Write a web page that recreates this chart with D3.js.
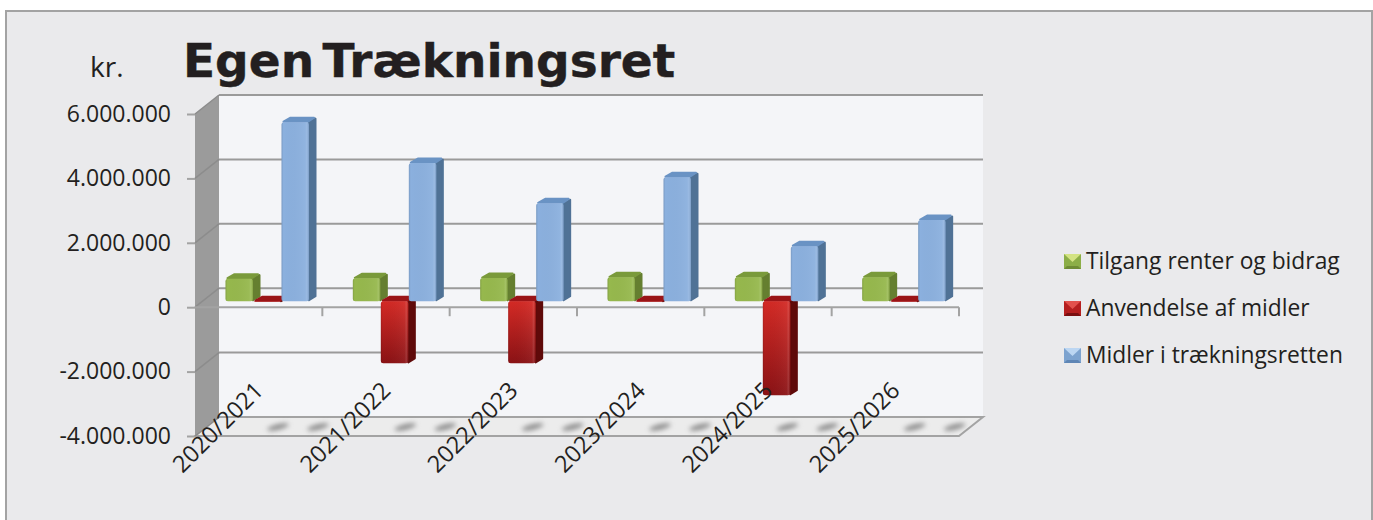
<!DOCTYPE html>
<html>
<head>
<meta charset="utf-8">
<script src="https://cdn.jsdelivr.net/npm/d3@7"></script>
<style>
html, body { margin: 0; padding: 0; background: #fff; overflow: hidden; }
text { fill: #231f20; font-family: "Open Sans", sans-serif; }
</style>
</head>
<body>
<svg id="chart" width="1373" height="520"></svg>
<script>
var categories = ["2020/2021", "2021/2022", "2022/2023", "2023/2024", "2024/2025", "2025/2026"];
var tilgang = [700000, 710000, 720000, 740000, 740000, 740000];
var anvendelse = [-20000, -1930000, -1930000, -20000, -2920000, -20000];
var midler = [5560000, 4290000, 3040000, 3850000, 1710000, 2520000];
var seriesNames = ["Tilgang renter og bidrag", "Anvendelse af midler", "Midler i trækningsretten"];
var yTicks = [6000000, 4000000, 2000000, 0, -2000000, -4000000];

var seriesValues = [tilgang, anvendelse, midler];
var colors = [
  {front: "#96b84d", top: "#7a9a3b", side: "#657f30", light: "#d3e383", dark: "#6f8c35"},
  {front: "url(#redFront)", top: "#9a1417", side: "#5f0a0a", light: "#e2514c", dark: "#7a0f10"},
  {front: "#8bb0de", top: "#6a93c4", side: "#507296", light: "#bcd6f2", dark: "#5f86b5"}
];

var svg = d3.select("#chart");

// plot box, front plane of the 3d floor
var left = 195, right = 959, depthX = 24, depthY = 19;
var barDepthX = 7, barDepthY = 5, barOffset = 6;

var y = d3.scaleLinear().domain([-4000000, 6000000]).range([436, 114]);
var x = d3.scaleBand().domain(categories).range([left, right]);
var inner = d3.scaleBand().domain([0, 1, 2]).range([30.5, 114.5]);

var daDK = d3.formatLocale({decimal: ",", thousands: ".", grouping: [3], currency: ["", " kr."], minus: "-"});

var defs = svg.append("defs");
var redGrad = defs.append("linearGradient").attr("id", "redFront")
  .attr("x1", 0).attr("y1", 0).attr("x2", 0).attr("y2", 1);
redGrad.append("stop").attr("offset", 0).attr("stop-color", "#d42a25");
redGrad.append("stop").attr("offset", 1).attr("stop-color", "#8a1215");

var bevel = defs.append("linearGradient").attr("id", "bevel");
bevel.append("stop").attr("offset", 0).attr("stop-color", "#000").attr("stop-opacity", 0.12);
bevel.append("stop").attr("offset", 0.07).attr("stop-color", "#000").attr("stop-opacity", 0);
bevel.append("stop").attr("offset", 0.86).attr("stop-color", "#fff").attr("stop-opacity", 0.05);
bevel.append("stop").attr("offset", 0.93).attr("stop-color", "#fff").attr("stop-opacity", 0.14);
bevel.append("stop").attr("offset", 1).attr("stop-color", "#000").attr("stop-opacity", 0.1);

defs.append("filter").attr("id", "blur").attr("x", "-100%").attr("y", "-500%").attr("width", "300%").attr("height", "1100%")
  .append("feGaussianBlur").attr("stdDeviation", 2.4);

// chart area
svg.append("rect").attr("x", 6).attr("y", 11).attr("width", 1366).attr("height", 520)
  .attr("fill", "#eaeaec").attr("stroke", "#a3a3a3").attr("stroke-width", 2);

// back wall
var wallTop = y(6000000) - depthY, wallBottom = y(-4000000) - depthY;
svg.append("rect").attr("x", left + depthX).attr("y", wallTop)
  .attr("width", right - left).attr("height", wallBottom - wallTop).attr("fill", "#f4f5f8");

// left wall
svg.append("polygon")
  .attr("points", [[left, y(6000000)], [left + depthX, wallTop], [left + depthX, wallBottom], [left, y(-4000000)]].join(" "))
  .attr("fill", "#9b9b9b");

// floor
svg.append("polygon")
  .attr("points", [[left, y(-4000000)], [left + depthX, wallBottom], [right + depthX, wallBottom], [right, y(-4000000)]].join(" "))
  .attr("fill", "#ececec").attr("stroke", "#a3a3a3").attr("stroke-width", 2);

// smudges on the floor
categories.forEach(function(c) {
  [83, 123].forEach(function(off) {
    svg.append("ellipse")
      .attr("transform", "translate(" + (x(c) + off) + ",427) rotate(-14)")
      .attr("rx", 11).attr("ry", 2.5).attr("fill", "#808080").attr("filter", "url(#blur)");
  });
});

// gridlines on the walls
yTicks.forEach(function(t) {
  if (t != -4000000) {
    svg.append("line")
      .attr("x1", left + depthX).attr("x2", right + depthX)
      .attr("y1", y(t) - depthY).attr("y2", y(t) - depthY)
      .attr("stroke", "#9a9a9a").attr("stroke-width", 2);
  }
  svg.append("line")
    .attr("x1", left).attr("x2", left + depthX)
    .attr("y1", y(t)).attr("y2", y(t) - depthY)
    .attr("stroke", "#8c8c8c").attr("stroke-width", 1.5);
});

// front line at zero with the category ticks
svg.append("line").attr("x1", left).attr("x2", right).attr("y1", y(0)).attr("y2", y(0))
  .attr("stroke", "#a3a3a3").attr("stroke-width", 2);
categories.forEach(function(c) {
  svg.append("line")
    .attr("x1", x(c) + x.bandwidth()).attr("x2", x(c) + x.bandwidth())
    .attr("y1", y(0)).attr("y2", y(0) + 9)
    .attr("stroke", "#a3a3a3").attr("stroke-width", 2);
});

// bars
var base = y(0) - barOffset;
categories.forEach(function(c, i) {
  seriesValues.forEach(function(values, s) {
    var v = values[i];
    var x0 = x(c) + inner(s), w = inner.bandwidth() - 0.5;
    var yEnd = y(v) - barOffset;
    var yTop = Math.min(base, yEnd), yBot = Math.max(base, yEnd);
    var col = colors[s];
    var g = svg.append("g").attr("class", "bar");

    g.append("polygon")
      .attr("points", [[x0 + w, yTop], [x0 + w + barDepthX - 0.5, yTop - barDepthY + 1.5], [x0 + w + barDepthX - 0.5, yBot - barDepthY], [x0 + w, yBot - 1]].join(" "))
      .attr("fill", col.side).attr("stroke", col.side).attr("stroke-width", 2).attr("stroke-linejoin", "round");
    g.append("polygon")
      .attr("points", [[x0 + 2, yTop - 0.5], [x0 + barDepthX + 2, yTop - barDepthY + 0.5], [x0 + w + barDepthX - 2, yTop - barDepthY + 0.5], [x0 + w - 1, yTop - 0.5]].join(" "))
      .attr("fill", col.top).attr("stroke", col.top).attr("stroke-width", 2).attr("stroke-linejoin", "round");
    g.append("rect").attr("x", x0).attr("y", yTop).attr("width", w).attr("height", yBot - yTop)
      .attr("rx", 2.5).attr("fill", col.front);
    g.append("rect").attr("x", x0).attr("y", yTop).attr("width", w).attr("height", yBot - yTop)
      .attr("rx", 2.5).attr("fill", "url(#bevel)");
  });
});

// y axis
var yAxis = svg.append("g").attr("transform", "translate(" + left + ",0)")
  .call(d3.axisLeft(y).tickValues(yTicks).tickSize(8).tickPadding(16).tickFormat(daDK.format(",d")));
yAxis.select(".domain").remove();
yAxis.selectAll("line").attr("stroke", "#a3a3a3").attr("stroke-width", 2);
yAxis.selectAll("text").style("font-size", "23px").attr("fill", "#231f20")
  .style("font-family", "'Open Sans', sans-serif");

// x labels, rotated
var xAxis = svg.append("g").attr("transform", "translate(0," + y(-4000000) + ")")
  .call(d3.axisBottom(x).tickSize(0).tickPadding(0));
xAxis.select(".domain").remove();
xAxis.selectAll("text")
  .style("font-size", "23.5px").style("font-family", "'Open Sans', sans-serif")
  .attr("fill", "#231f20")
  .attr("text-anchor", "end")
  .attr("dy", 0).attr("y", 0)
  .attr("transform", "translate(6,-44) rotate(-45)");

// titles
svg.append("text").attr("x", 183).attr("y", 76.5).text("Egen Trækningsret")
  .style("font-family", "'DejaVu Sans', sans-serif").style("font-weight", "bold")
  .style("font-size", "47px").style("word-spacing", "-8px")
  .style("stroke", "#231f20").style("stroke-width", 0.4);
svg.append("text").attr("x", 90).attr("y", 77).text("kr.").style("font-size", "28px");

// legend
seriesNames.forEach(function(name, s) {
  var cy = 262 + s * 47, col = colors[s];
  var lg = svg.append("g").attr("transform", "translate(1064," + (cy - 8) + ")");
  var fill = s == 1 ? "#b51f1f" : (s == 0 ? "#8cae47" : "#7da3cf");
  lg.append("rect").attr("width", 17).attr("height", 15).attr("fill", fill);
  lg.append("polygon").attr("points", "0,0 17,0 8.5,8").attr("fill", col.light);
  lg.append("polygon").attr("points", "0,15 17,15 14,12 3,12").attr("fill", col.dark);
  svg.append("text").attr("x", 1086).attr("y", cy + 7).text(name).style("font-size", "22.8px");
});
</script>
</body>
</html>
